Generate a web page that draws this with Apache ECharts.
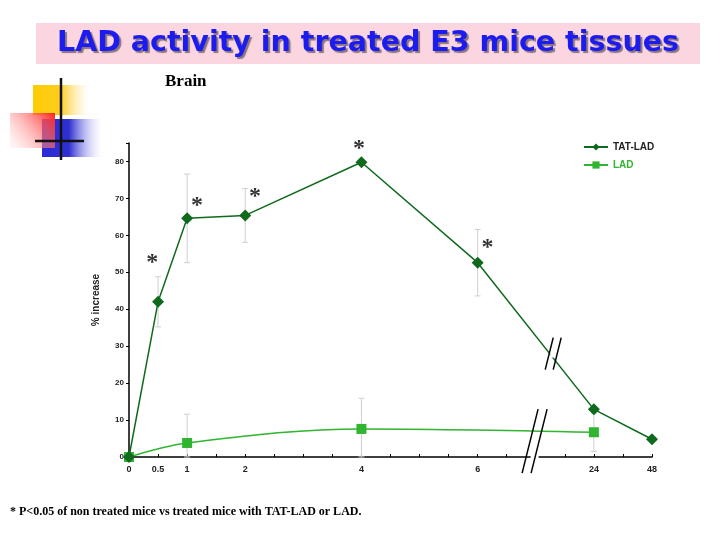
<!DOCTYPE html>
<html>
<head>
<meta charset="utf-8">
<script src="https://cdn.jsdelivr.net/npm/echarts@6/dist/echarts.min.js"></script>
<style>
  html, body { margin: 0; padding: 0; background: #fff; }
  #main { width: 720px; height: 540px; }
</style>
</head>
<body>
<div id="main"></div>
<script>
// time points (h) and where they sit on the broken axis
const timeLabels = ['0', '0.5', '1', '2', '4', '6', '24', '48'];
const axisPos = [0, 0.5, 1, 2, 4, 6, 8, 9];

// TAT-LAD: mean and error
const tatValues = [0, 42, 64.6, 65.4, 79.8, 52.6, 12.9, 4.8];
const tatErr = [0, 6.8, 12, 7.3, 0, 9, 0, 0];

// LAD measured at 0, 1, 4, 24 h only
const ladPos = [0, 1, 4, 8];
const ladValues = [0, 3.8, 7.6, 6.7];
const ladErr = [0, 7.8, 8.3, 5.2];

// significance stars (axis position, height)
const starPos = [0.4, 1.17, 2.17, 3.96, 6.17];
const starY = [52.5, 68, 70.5, 83.5, 56.5];

const yTicks = [0, 10, 20, 30, 40, 50, 60, 70, 80];

const tatColor = '#0f6a1e';
const ladColor = '#2fb52f';

const tatData = axisPos.map((p, i) => [p, tatValues[i]]);
const ladData = ladPos.map((p, i) => [p, ladValues[i]]);
const tatBars = axisPos.map((p, i) => [p, Math.max(0, tatValues[i] - tatErr[i]), tatValues[i] + tatErr[i]]).filter((d, i) => tatErr[i] > 0);
const ladBars = ladPos.map((p, i) => [p, Math.max(0, ladValues[i] - ladErr[i]), ladValues[i] + ladErr[i]]).filter((d, i) => ladErr[i] > 0);
const starData = starPos.map((p, i) => [p, starY[i]]);

function errRender(params, api) {
  const x = api.value(0);
  const lo = api.coord([x, api.value(1)]);
  const hi = api.coord([x, api.value(2)]);
  const w = 3;
  const st = { stroke: '#cfcfcf', lineWidth: 1 };
  return {
    type: 'group',
    children: [
      { type: 'line', shape: { x1: lo[0], y1: lo[1], x2: hi[0], y2: hi[1] }, style: st },
      { type: 'line', shape: { x1: lo[0] - w, y1: lo[1], x2: lo[0] + w, y2: lo[1] }, style: st },
      { type: 'line', shape: { x1: hi[0] - w, y1: hi[1], x2: hi[0] + w, y2: hi[1] }, style: st }
    ]
  };
}

const chart = echarts.init(document.getElementById('main'));

const option = {
  animation: false,
  backgroundColor: '#fff',
  grid: { left: 129, right: 68, top: 143, bottom: 83 },
  legend: {
    orient: 'vertical',
    left: 578,
    top: 137,
    itemGap: 8,
    itemWidth: 24,
    itemHeight: 9,
    textStyle: { fontFamily: 'Liberation Sans', fontSize: 10, fontWeight: 'bold' },
    data: [
      { name: 'TAT-LAD', textStyle: { color: '#222' } },
      { name: 'LAD', textStyle: { color: ladColor } }
    ]
  },
  xAxis: {
    type: 'value',
    min: 0,
    max: 9,
    interval: 0.5,
    splitLine: { show: false },
    axisLine: { onZero: false, lineStyle: { color: '#000', width: 1.5 } },
    axisTick: { show: true, length: 3, inside: true, lineStyle: { color: '#000' } },
    axisLabel: {
      customValues: axisPos,
      color: '#222',
      fontFamily: 'Liberation Sans',
      fontSize: 9,
      fontWeight: 'bold',
      margin: 8,
      formatter: v => timeLabels[axisPos.indexOf(v)]
    }
  },
  yAxis: {
    type: 'value',
    min: 0,
    max: 85,
    interval: 10,
    name: '% increase',
    nameLocation: 'middle',
    nameGap: 28,
    nameRotate: 90,
    nameTextStyle: { fontFamily: 'Liberation Sans', fontSize: 10, fontWeight: 'bold', color: '#222' },
    splitLine: { show: false },
    axisLine: { show: true, lineStyle: { color: '#000', width: 1.5 } },
    axisTick: { show: true, length: 3, lineStyle: { color: '#000' } },
    axisLabel: {
      customValues: yTicks,
      color: '#222',
      fontFamily: 'Liberation Sans',
      fontSize: 8,
      fontWeight: 'bold',
      margin: 5
    }
  },
  series: [
    { type: 'custom', renderItem: errRender, data: tatBars, z: 1, silent: true },
    { type: 'custom', renderItem: errRender, data: ladBars, z: 1, silent: true },
    {
      name: 'LAD',
      type: 'line',
      data: ladData,
      smooth: 0.35,
      symbol: 'rect',
      symbolSize: 10,
      lineStyle: { color: ladColor, width: 1.5 },
      itemStyle: { color: ladColor },
      z: 3
    },
    {
      name: 'TAT-LAD',
      type: 'line',
      data: tatData,
      symbol: 'diamond',
      symbolSize: 12,
      lineStyle: { color: tatColor, width: 1.5 },
      itemStyle: { color: tatColor },
      z: 4
    },
    {
      type: 'scatter',
      data: starData,
      symbolSize: 1,
      itemStyle: { color: 'rgba(0,0,0,0)' },
      label: {
        show: true,
        position: 'inside',
        formatter: '*',
        fontFamily: 'Liberation Serif',
        fontSize: 24,
        fontWeight: 'bold',
        color: '#000'
      },
      z: 5,
      silent: true
    }
  ]
};

chart.setOption(option);

// axis-break slashes, placed through the chart's own scales
function slashPair(pos, val, dy, gap) {
  const c = chart.convertToPixel({ gridIndex: 0 }, [pos, val]);
  const st = { stroke: '#000', lineWidth: 1.5 };
  const out = [];
  [-gap / 2, gap / 2].forEach(off => {
    out.push({
      type: 'line',
      shape: { x1: c[0] + off - dy * 0.25, y1: c[1] + dy, x2: c[0] + off + dy * 0.25, y2: c[1] - dy },
      style: st, z: 10
    });
  });
  return out;
}

const graphics = [
  // slide title band
  { type: 'rect', shape: { x: 36, y: 23, width: 664, height: 41 }, style: { fill: '#fbd6e1' }, z: 1 },
  {
    type: 'text', left: 57, top: 29, z: 2,
    style: {
      text: 'LAD activity in treated E3 mice tissues',
      font: 'bold 28.5px "DejaVu Sans"',
      fill: '#1c1cf0',
      textShadowColor: 'rgba(0,0,0,0.45)',
      textShadowOffsetX: 2,
      textShadowOffsetY: 2,
      textShadowBlur: 1
    }
  },
  {
    type: 'text', left: 165, top: 73, z: 2,
    style: { text: 'Brain', font: 'bold 17px "Liberation Serif"', fill: '#000' }
  },
  // decorative squares
  {
    type: 'rect', shape: { x: 33, y: 85, width: 55, height: 30 }, z: 1,
    style: { fill: new echarts.graphic.LinearGradient(0, 0, 1, 0, [{ offset: 0, color: '#ffcc00' }, { offset: 0.5, color: '#ffcc22' }, { offset: 1, color: 'rgba(255,230,150,0)' }]) }
  },
  {
    type: 'rect', shape: { x: 10, y: 113, width: 45, height: 35 }, z: 2,
    style: { fill: new echarts.graphic.LinearGradient(1, 0, 0, 1, [{ offset: 0, color: '#ff2020' }, { offset: 1, color: 'rgba(255,220,220,0.2)' }]) }
  },
  {
    type: 'rect', shape: { x: 42, y: 119, width: 60, height: 38 }, z: 1,
    style: { fill: new echarts.graphic.LinearGradient(0, 0, 1, 0, [{ offset: 0, color: '#2a2ad8' }, { offset: 0.45, color: '#3030d0' }, { offset: 1, color: 'rgba(200,200,255,0)' }]) }
  },
  { type: 'line', shape: { x1: 61, y1: 78, x2: 61, y2: 160 }, style: { stroke: '#111', lineWidth: 2.5 }, z: 3 },
  { type: 'line', shape: { x1: 35, y1: 141, x2: 84, y2: 141 }, style: { stroke: '#111', lineWidth: 2.5 }, z: 3 },
  // footnote
  {
    type: 'text', left: 10, top: 506, z: 2,
    style: {
      text: '* P<0.05 of non treated mice vs treated mice with TAT-LAD or LAD.',
      font: 'bold 12px "Liberation Serif"',
      fill: '#000',
      textShadowColor: 'rgba(0,0,0,0.35)',
      textShadowOffsetX: 1,
      textShadowOffsetY: 1
    }
  }
];

// white patches under the breaks, then the slashes
const axisBreak = chart.convertToPixel({ gridIndex: 0 }, [6.98, 0]);
const lineBreak = chart.convertToPixel({ gridIndex: 0 }, [7.3, 28]);
graphics.push({ type: 'rect', shape: { x: axisBreak[0] - 4, y: axisBreak[1] - 3, width: 8, height: 6 }, style: { fill: '#fff' }, z: 9 });
graphics.push({ type: 'rect', shape: { x: lineBreak[0] - 3, y: lineBreak[1] - 4, width: 6, height: 8 }, style: { fill: '#fff' }, z: 9 });
slashPair(6.98, 4.3, 32, 9).forEach(g => graphics.push(g));
slashPair(7.3, 28, 16, 8).forEach(g => graphics.push(g));

chart.setOption({ graphic: graphics });
</script>
</body>
</html>
